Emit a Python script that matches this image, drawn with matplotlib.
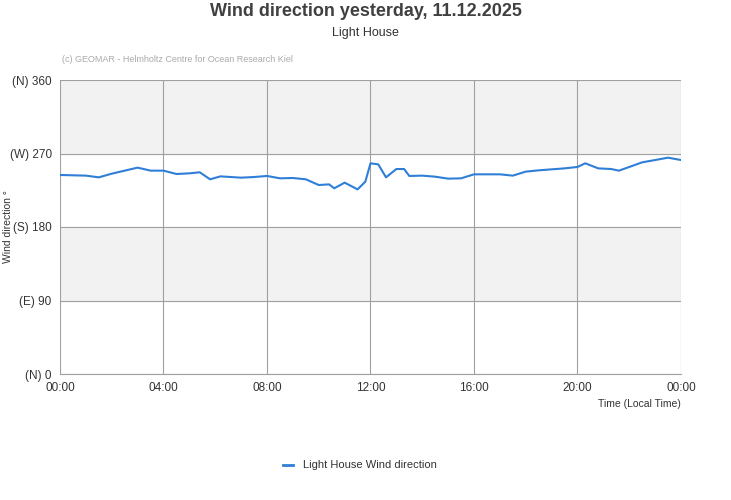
import matplotlib
matplotlib.use("Agg")
import matplotlib.pyplot as plt

hours = [0,1,1.5,2,3,3.5,4,4.5,5,5.4,5.8,6.2,7,7.5,8,8.5,9,9.5,10,10.4,10.6,11.0,11.5,11.8,12,12.3,12.6,13,13.3,13.5,14,14.5,15,15.5,16,17,17.5,18,18.5,19,19.5,20,20.3,20.8,21.3,21.6,22,22.5,23,23.5,24]
deg = [243.7,242.9,240.8,245.3,252.7,249,249,244.9,245.7,247,238.4,242,240.4,241.2,242.5,239.6,240,238.4,231.4,232.2,227.4,234.3,226.1,235.5,258,256.7,240.8,251,251,242.5,242.9,241.6,239.2,239.6,244.5,244.5,242.9,247.8,249.4,250.6,251.8,253.5,258,251.8,251,249,253.5,259.2,262,264.9,262]
yticks = [0,90,180,270,360]
ylabels = ["(N) 0","(E) 90","(S) 180","(W) 270","(N) 360"]
xticks = [0,4,8,12,16,20,24]
xlabels = ["00:00","04:00","08:00","12:00","16:00","20:00","00:00"]

plt.rcParams['font.family'] = ['Liberation Sans','DejaVu Sans']
fig = plt.figure(figsize=(7.31,5), dpi=100)
ax = fig.add_axes([60/731, 126/500, 621/731, 294/500])
for i,(a,b) in enumerate(zip(yticks[:-1], yticks[1:])):
    if i % 2 == 1:
        ax.axhspan(a,b,color='#f2f2f2',zorder=0)
ax.plot(hours, deg, color='#2f7ed8', lw=1.5, zorder=3)
ax.set_xlim(0,24); ax.set_ylim(0,360)
ax.set_xticks(xticks); ax.set_xticklabels(xlabels, fontsize=8.5, color='#333333')
ax.set_yticks(yticks); ax.set_yticklabels(ylabels, fontsize=8.5, color='#333333')
ax.grid(True, color='#a0a0a0', lw=0.8, zorder=1)
ax.tick_params(length=0, pad=6)
for s in ['top','right','left']:
    ax.spines[s].set_visible(False)
ax.spines['bottom'].set_color('#a0a0a0')
fig.text(8/731, 227/500 if False else (500-227)/500, 'Wind direction °', fontsize=7.5, color='#333333',
         rotation=90, ha='center', va='center')
fig.text(681/731, (500-404)/500, 'Time (Local Time)', fontsize=7.5, color='#333333', ha='right', va='center')
fig.text(0.5, (500-12)/500, 'Wind direction yesterday, 11.12.2025', fontsize=13, fontweight='bold', color='#404040', ha='center', va='center')
fig.text(0.5, (500-33)/500, 'Light House', fontsize=9, color='#333333', ha='center', va='center')
fig.text(62/731, (500-60)/500, '(c) GEOMAR - Helmholtz Centre for Ocean Research Kiel', fontsize=6.5, color='#aaaaaa', va='center')
fig.lines.append(plt.Line2D([283/731, 293/731],[35/500,35/500], color='#2f7ed8', lw=2, transform=fig.transFigure))
fig.text(303/731, 35/500, 'Light House Wind direction', fontsize=8, color='#333333', va='center')
fig.savefig('out.png', dpi=100)
